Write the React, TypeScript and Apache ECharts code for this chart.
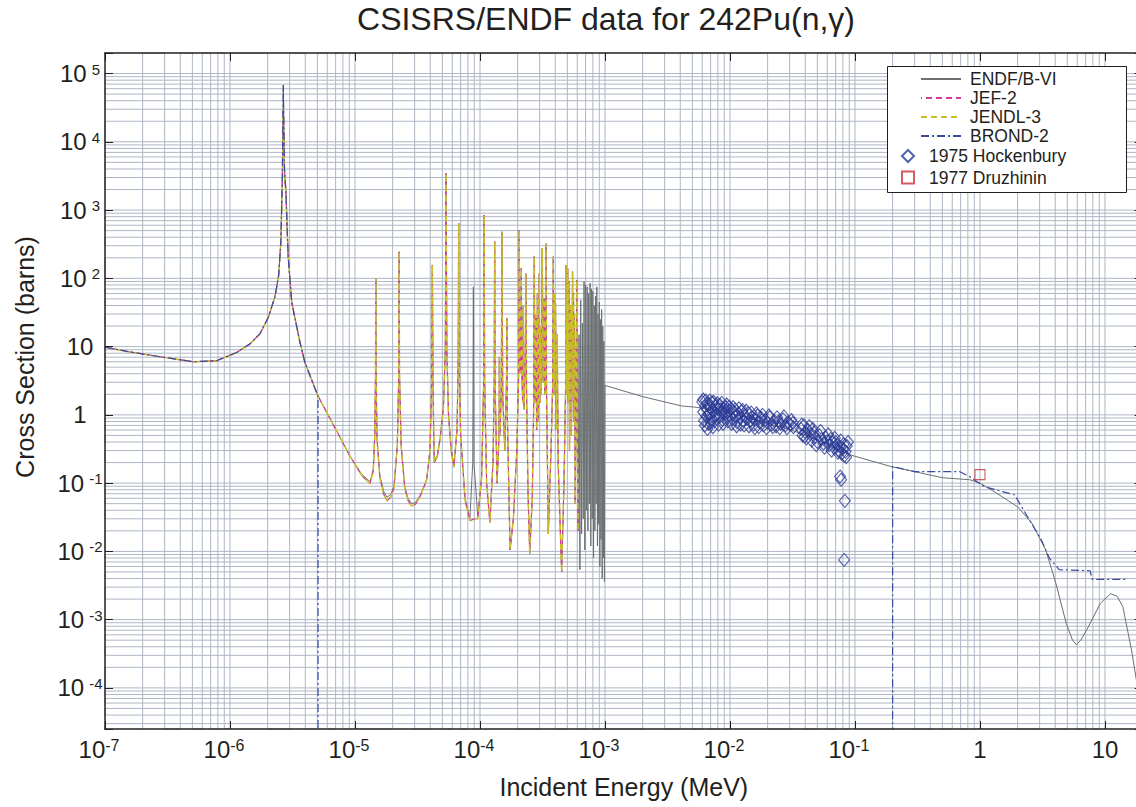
import React, { useEffect, useRef } from "react";
import * as echarts from "echarts";

const FONT = "'Liberation Sans', Arial, Helvetica, sans-serif";
const TEXT = "#231f20";
const GRID_COLOR = "#aeb6c4";

const X_MIN = 1e-7;
const X_MAX = 20;
const Y_MIN = 2.5e-5;
const Y_MAX = 2e5;

const TITLE = "CSISRS/ENDF data for 242Pu(n,\u03b3)";
const X_NAME = "Incident Energy (MeV)";
const Y_NAME = "Cross Section (barns)";

const lineNames = ["ENDF/B-VI", "JEF-2", "JENDL-3", "BROND-2"];
const pointNames = ["1975 Hockenbury", "1977 Druzhinin"];

// ENDF/B-VI evaluated curve [E (MeV), sigma (b)]
const endfB6: number[][] = [
  [1e-7, 9.8], [1.5e-7, 8.5], [2.75e-7, 7.1], [5.1e-7, 6.0], [7.8e-7, 6.2], [1.13e-6, 8.2], [1.45e-6, 11],
  [1.74e-6, 15.5], [2.03e-6, 27], [2.29e-6, 54], [2.45e-6, 110], [2.55e-6, 330], [2.62e-6, 2600],
  [2.67e-6, 68000], [2.73e-6, 4000], [2.8e-6, 1900], [2.92e-6, 210], [3.12e-6, 44], [3.63e-6, 11.5],
  [3.98e-6, 5.8], [5.09e-6, 1.85], [6.7e-6, 0.72], [9.1e-6, 0.25], [1.13e-5, 0.135], [1.32e-5, 0.105],
  [1.4e-5, 0.16], [1.44e-5, 0.5], [1.46e-5, 4], [1.468e-5, 100], [1.475e-5, 4], [1.5e-5, 0.45], [1.58e-5, 0.13],
  [1.7e-5, 0.075], [1.8e-5, 0.062], [1.93e-5, 0.068], [2.05e-5, 0.09], [2.18e-5, 0.35], [2.24e-5, 4], [2.255e-5, 245],
  [2.27e-5, 4], [2.34e-5, 0.35], [2.5e-5, 0.09], [2.65e-5, 0.06], [2.84e-5, 0.05], [3.05e-5, 0.052], [3.3e-5, 0.065],
  [3.74e-5, 0.11], [3.98e-5, 0.3], [4.1e-5, 2.5], [4.16e-5, 157],
  [4.21e-5, 2.5], [4.3e-5, 0.22], [4.55e-5, 0.25], [4.8e-5, 0.45], [5.1e-5, 1.3], [5.28e-5, 9], [5.35e-5, 3460],
  [5.43e-5, 9], [5.6e-5, 1.0], [5.9e-5, 0.3], [6.19e-5, 0.19], [6.55e-5, 0.6], [6.7e-5, 7], [6.75e-5, 640], [6.8e-5, 7],
  [7.0e-5, 0.5], [7.6e-5, 0.06], [8.3e-5, 0.03], [8.75e-5, 0.2], [8.85e-5, 75], [8.95e-5, 0.2], [9.6e-5, 0.032],
  [1.03e-4, 0.12], [1.07e-4, 3], [1.08e-4, 850], [1.09e-4, 3], [1.13e-4, 0.1], [1.2e-4, 0.027], [1.27e-4, 0.2],
  [1.3e-4, 3], [1.31e-4, 345], [1.32e-4, 3], [1.37e-4, 0.1], [1.42e-4, 0.5], [1.43e-4, 7], [1.44e-4, 0.5],
  [1.48e-4, 2], [1.5e-4, 480], [1.52e-4, 2], [1.58e-4, 0.3], [1.63e-4, 3], [1.64e-4, 26], [1.655e-4, 1],
  [1.74e-4, 0.0105], [1.85e-4, 0.03], [1.97e-4, 0.3], [2.04e-4, 4], [2.06e-4, 510], [2.08e-4, 4], [2.12e-4, 5],
  [2.14e-4, 140], [2.16e-4, 4], [2.2e-4, 1.5], [2.22e-4, 40], [2.25e-4, 1.2], [2.3e-4, 5], [2.33e-4, 117],
  [2.36e-4, 2], [2.42e-4, 0.08], [2.5e-4, 0.0093], [2.62e-4, 0.06], [2.69e-4, 1.5], [2.72e-4, 209], [2.75e-4, 1.5],
  [2.8e-4, 30], [2.84e-4, 0.6], [2.88e-4, 60], [2.92e-4, 0.8], [2.98e-4, 117], [3.01e-4, 1.5], [3.05e-4, 20],
  [3.09e-4, 2], [3.15e-4, 275], [3.2e-4, 3], [3.25e-4, 50], [3.3e-4, 2], [3.37e-4, 325], [3.41e-4, 2],
  [3.52e-4, 0.018], [3.7e-4, 0.3], [3.82e-4, 3], [3.86e-4, 209], [3.9e-4, 2], [3.95e-4, 60], [3.98e-4, 3],
  [4.02e-4, 43], [4.08e-4, 0.6], [4.15e-4, 15], [4.22e-4, 0.2], [4.5e-4, 0.005], [4.7e-4, 0.1], [4.85e-4, 3],
  [4.88e-4, 157], [4.92e-4, 2], [4.96e-4, 50], [4.99e-4, 2], [5.03e-4, 140], [5.08e-4, 1.5], [5.15e-4, 90],
  [5.2e-4, 0.3], [5.3e-4, 40], [5.38e-4, 0.5], [5.45e-4, 3], [5.5e-4, 125], [5.55e-4, 2], [5.6e-4, 60],
  [5.65e-4, 0.8], [5.7e-4, 30], [5.78e-4, 0.05], [5.88e-4, 2], [5.94e-4, 94], [6.0e-4, 0.6], [6.1e-4, 0.02],
  [6.2e-4, 15], [6.3e-4, 0.0054], [6.4e-4, 48], [6.5e-4, 0.018], [6.6e-4, 22], [6.7e-4, 0.03], [6.8e-4, 90],
  [6.9e-4, 0.0105], [7.0e-4, 80], [7.1e-4, 0.04], [7.2e-4, 75], [7.3e-4, 0.02], [7.4e-4, 60], [7.5e-4, 0.05],
  [7.6e-4, 85], [7.7e-4, 0.012], [7.8e-4, 70], [7.9e-4, 0.03], [8.0e-4, 65], [8.1e-4, 0.008], [8.2e-4, 40],
  [8.3e-4, 0.02], [8.4e-4, 55], [8.5e-4, 0.05], [8.6e-4, 75], [8.7e-4, 0.012], [8.8e-4, 30], [8.9e-4, 0.025],
  [9.0e-4, 45], [9.1e-4, 0.006], [9.2e-4, 25], [9.3e-4, 0.015], [9.4e-4, 35], [9.5e-4, 0.004], [9.6e-4, 20],
  [9.7e-4, 0.008], [9.8e-4, 12], [9.9e-4, 0.0036],
  [1.0e-3, 2.7], [2.0e-3, 1.85], [4.1e-3, 1.35], [5.2e-3, 1.3], [1.0e-2, 1.06], [2.75e-2, 0.64], [4.0e-2, 0.51],
  [9.1e-2, 0.26], [0.194, 0.175], [0.5, 0.12], [0.83, 0.112], [1.0, 0.1], [1.3, 0.075], [2.0, 0.045], [2.6, 0.026],
  [3.36, 0.0105], [4.05, 0.0034], [4.9, 8.8e-4], [5.5, 5.0e-4], [5.9, 4.3e-4], [6.4, 5.0e-4], [7.15, 7.1e-4],
  [9.2, 1.74e-3], [11.1, 2.4e-3], [12.5, 2.2e-3], [13.9, 1.55e-3], [16.3, 3.6e-4], [18.2, 1.04e-4], [20, 6e-5],
];

// JEF-2 evaluated curve (resolved region only)
const jef2: number[][] = [
  [1e-7, 9.8], [1.5e-7, 8.5], [2.75e-7, 7.1], [5.1e-7, 6.0], [7.8e-7, 6.2], [1.13e-6, 8.2], [1.45e-6, 11],
  [1.74e-6, 15.5], [2.03e-6, 27], [2.29e-6, 54], [2.45e-6, 110], [2.55e-6, 330], [2.62e-6, 2600],
  [2.67e-6, 30000], [2.73e-6, 3000], [2.8e-6, 1900], [2.92e-6, 210], [3.12e-6, 44], [3.63e-6, 11.5],
  [3.98e-6, 5.8], [5.09e-6, 1.85], [6.7e-6, 0.72], [9.1e-6, 0.25], [1.13e-5, 0.13], [1.32e-5, 0.098],
  [1.4e-5, 0.15], [1.44e-5, 0.5], [1.46e-5, 4], [1.468e-5, 100], [1.475e-5, 4], [1.5e-5, 0.45], [1.58e-5, 0.12],
  [1.7e-5, 0.068], [1.8e-5, 0.055], [1.93e-5, 0.062], [2.05e-5, 0.085], [2.18e-5, 0.35], [2.24e-5, 4], [2.255e-5, 245],
  [2.27e-5, 4], [2.34e-5, 0.35], [2.5e-5, 0.085], [2.65e-5, 0.056], [2.84e-5, 0.046], [3.05e-5, 0.049], [3.3e-5, 0.062],
  [3.74e-5, 0.11], [3.98e-5, 0.3], [4.1e-5, 2.5], [4.16e-5, 157],
  [4.21e-5, 2.5], [4.3e-5, 0.2], [4.55e-5, 0.24], [4.8e-5, 0.45], [5.1e-5, 1.3], [5.28e-5, 9], [5.35e-5, 3460],
  [5.43e-5, 9], [5.6e-5, 1.0], [5.9e-5, 0.28], [6.19e-5, 0.17], [6.55e-5, 0.6], [6.7e-5, 7], [6.75e-5, 640], [6.8e-5, 7],
  [7.0e-5, 0.5], [7.6e-5, 0.055], [8.3e-5, 0.028], [9.0e-5, 0.03], [9.6e-5, 0.03],
  [1.03e-4, 0.12], [1.07e-4, 3], [1.08e-4, 850], [1.09e-4, 3], [1.13e-4, 0.1], [1.2e-4, 0.026], [1.27e-4, 0.2],
  [1.3e-4, 3], [1.31e-4, 345], [1.32e-4, 3], [1.37e-4, 0.1], [1.42e-4, 0.5], [1.43e-4, 7], [1.44e-4, 0.5],
  [1.48e-4, 2], [1.5e-4, 480], [1.52e-4, 2], [1.58e-4, 0.3], [1.63e-4, 3], [1.64e-4, 26], [1.655e-4, 1],
  [1.74e-4, 0.0105], [1.85e-4, 0.03], [1.97e-4, 0.3], [2.04e-4, 4], [2.06e-4, 510], [2.08e-4, 4], [2.12e-4, 5],
  [2.14e-4, 140], [2.16e-4, 4], [2.2e-4, 1.5], [2.22e-4, 40], [2.25e-4, 1.2], [2.3e-4, 5], [2.33e-4, 117],
  [2.36e-4, 2], [2.42e-4, 0.08], [2.5e-4, 0.0093], [2.62e-4, 0.06], [2.69e-4, 1.5], [2.72e-4, 209], [2.75e-4, 1.5],
  [2.8e-4, 30], [2.84e-4, 0.6], [2.88e-4, 60], [2.92e-4, 0.8], [2.98e-4, 117], [3.01e-4, 1.5], [3.05e-4, 20],
  [3.09e-4, 2], [3.15e-4, 275], [3.2e-4, 3], [3.25e-4, 50], [3.3e-4, 2], [3.37e-4, 325], [3.41e-4, 2],
  [3.52e-4, 0.018], [3.7e-4, 0.3], [3.82e-4, 3], [3.86e-4, 209], [3.9e-4, 2], [3.95e-4, 60], [3.98e-4, 3],
  [4.02e-4, 43], [4.08e-4, 0.6], [4.15e-4, 15], [4.22e-4, 0.2], [4.5e-4, 0.005], [4.7e-4, 0.1], [4.85e-4, 3],
  [4.88e-4, 157], [4.92e-4, 2], [4.96e-4, 50], [4.99e-4, 2], [5.03e-4, 140], [5.08e-4, 1.5], [5.15e-4, 90],
  [5.2e-4, 0.3], [5.3e-4, 40], [5.38e-4, 0.5], [5.45e-4, 3], [5.5e-4, 125], [5.55e-4, 2], [5.6e-4, 60],
  [5.65e-4, 0.8], [5.7e-4, 30], [5.78e-4, 0.05], [5.88e-4, 2], [5.94e-4, 94], [6.0e-4, 0.6], [6.1e-4, 0.02],
];

// JENDL-3 coincides with JEF-2 everywhere in the picture
const jendl3: number[][] = jef2;

// BROND-2: thermal + first resonance, then drops off-scale until the fast region
const brond2: number[][] = [
  [1e-7, 9.8], [1.5e-7, 8.5], [2.75e-7, 7.1], [5.1e-7, 6.0], [7.8e-7, 6.2], [1.13e-6, 8.2], [1.45e-6, 11],
  [1.74e-6, 15.5], [2.03e-6, 27], [2.29e-6, 54], [2.45e-6, 110], [2.55e-6, 330], [2.62e-6, 2600],
  [2.67e-6, 68000], [2.73e-6, 4000], [2.8e-6, 1900], [2.92e-6, 210], [3.12e-6, 44], [3.63e-6, 11.5],
  [3.98e-6, 5.8], [5.06e-6, 1.85], [5.065e-6, 1e-6], [0.2, 1e-6], [0.2001, 0.175], [0.3, 0.147], [0.69, 0.147],
  [0.83, 0.124], [1.08, 0.089], [1.9, 0.067], [2.08, 0.05], [3.1, 0.0147], [3.6, 0.0079], [4.3, 0.0054],
  [7.6, 0.0052], [7.9, 0.0039], [14.7, 0.0039],
];

const hockenbury1975: number[][] = [
  [0.0060, 1.55], [0.0061, 1.10], [0.0062, 0.82], [0.0063, 1.32], [0.0064, 1.62], [0.0065, 0.95], [0.0066, 1.20],
  [0.0066, 0.62], [0.0067, 0.74], [0.0068, 1.45], [0.0069, 1.05], [0.0070, 1.28], [0.0071, 0.88], [0.0072, 1.52],
  [0.0073, 0.66], [0.0074, 1.12], [0.0075, 0.80], [0.0077, 1.35], [0.0078, 1.00], [0.0080, 1.22], [0.0082, 0.92],
  [0.0083, 1.40], [0.0085, 1.08], [0.0087, 0.84], [0.0089, 1.25], [0.0091, 1.02], [0.0093, 1.30], [0.0095, 0.90],
  [0.0097, 1.15], [0.0100, 0.98], [0.0102, 1.20], [0.0105, 0.86], [0.0108, 1.10], [0.0111, 0.95], [0.0114, 0.78],
  [0.0117, 1.05], [0.0120, 0.90], [0.0124, 1.12], [0.0128, 0.82], [0.0132, 0.98], [0.0136, 0.88], [0.0140, 1.05],
  [0.0145, 0.80], [0.0150, 0.93], [0.0155, 0.72], [0.0160, 0.86], [0.0166, 0.98], [0.0172, 0.78], [0.0178, 0.90],
  [0.0185, 0.70], [0.0192, 0.84], [0.0200, 0.76], [0.0208, 0.92], [0.0216, 0.72], [0.0225, 0.82], [0.0234, 0.68],
  [0.0244, 0.80], [0.0255, 0.74], [0.0266, 0.86], [0.0278, 0.70], [0.0290, 0.78], [0.0303, 0.72], [0.0318, 0.76],
  [0.0061, 1.68], [0.0063, 0.70], [0.0065, 1.45], [0.0067, 1.02], [0.0069, 1.62], [0.0070, 0.76], [0.0072, 1.18],
  [0.0074, 1.55], [0.0076, 0.95], [0.0079, 1.48], [0.0081, 0.72], [0.0084, 1.20], [0.0086, 1.50], [0.0088, 0.74],
  [0.0090, 1.12], [0.0094, 1.42], [0.0096, 0.80], [0.0099, 1.32], [0.0103, 0.74], [0.0106, 1.30], [0.0110, 1.20],
  [0.0113, 0.68], [0.0118, 1.25], [0.0122, 0.72], [0.0126, 1.18], [0.0130, 0.70], [0.0135, 1.15], [0.0142, 0.68],
  [0.0148, 1.08], [0.0158, 0.64], [0.0163, 1.05], [0.0170, 0.66], [0.0182, 1.00], [0.0196, 0.64], [0.0205, 0.98],
  [0.0220, 0.66], [0.0238, 0.92], [0.0250, 0.64], [0.0270, 0.95], [0.0285, 0.64], [0.0310, 0.84], [0.0322, 0.66],
  [0.0370, 0.62], [0.0380, 0.50], [0.0390, 0.70], [0.0400, 0.56], [0.0410, 0.45], [0.0420, 0.60], [0.0440, 0.52],
  [0.0450, 0.42], [0.0470, 0.55], [0.0480, 0.47], [0.0500, 0.40], [0.0520, 0.50], [0.0540, 0.44], [0.0560, 0.38],
  [0.0580, 0.47], [0.0600, 0.41], [0.0620, 0.36], [0.0640, 0.44], [0.0660, 0.39], [0.0680, 0.33], [0.0700, 0.40],
  [0.0720, 0.36], [0.0740, 0.30], [0.0760, 0.34], [0.0780, 0.27], [0.0800, 0.32], [0.0820, 0.25], [0.0840, 0.29],
  [0.0860, 0.35], [0.0375, 0.72], [0.0395, 0.48], [0.0430, 0.68], [0.0460, 0.62], [0.0490, 0.36], [0.0530, 0.58],
  [0.0570, 0.33], [0.0610, 0.52], [0.0650, 0.30], [0.0690, 0.46], [0.0730, 0.28], [0.0770, 0.42], [0.0810, 0.37],
  [0.0850, 0.24], [0.0880, 0.40],
  [0.0760, 0.125], [0.0775, 0.112], [0.0830, 0.055], [0.0820, 0.0075],
];

const druzhinin1977: number[][] = [[1.0, 0.133]];

// grid line positions (1..9 x each decade)
const multipliers = [1, 2, 3, 4, 5, 6, 7, 8, 9];
const xDecades = [-7, -6, -5, -4, -3, -2, -1, 0, 1];
const yDecades = [-5, -4, -3, -2, -1, 0, 1, 2, 3, 4, 5];

function gridValues(decades: number[], lo: number, hi: number): number[] {
  const out: number[] = [];
  decades.forEach((n) =>
    multipliers.forEach((k) => {
      const v = k * Math.pow(10, n);
      if (v > lo * 1.0001 && v < hi * 0.9999) out.push(v);
    })
  );
  return out;
}

// one zig-zag polyline per direction: the connecting legs lie on the frame
function verticalGrid(xs: number[]): number[][] {
  const pts: number[][] = [];
  xs.forEach((v, i) => {
    if (i % 2 === 0) pts.push([v, Y_MIN], [v, Y_MAX]);
    else pts.push([v, Y_MAX], [v, Y_MIN]);
  });
  return pts;
}
function horizontalGrid(ys: number[]): number[][] {
  const pts: number[][] = [];
  ys.forEach((v, i) => {
    if (i % 2 === 0) pts.push([X_MIN, v], [X_MAX, v]);
    else pts.push([X_MAX, v], [X_MIN, v]);
  });
  return pts;
}

function decadeExp(v: number): number | null {
  const e = Math.log10(v);
  const r = Math.round(e);
  return Math.abs(e - r) < 1e-6 ? r : null;
}

function fmtPow(v: number): string {
  const r = decadeExp(v);
  if (r === null) return "";
  if (r === 0) return "{b|1}";
  if (r === 1) return "{b|10}";
  return `{b|10}{e|${r}}`;
}

export default function App() {
  const ref = useRef<HTMLDivElement>(null);
  useEffect(() => {
    if (!ref.current) return;
    const chart = echarts.init(ref.current, null, { renderer: "svg" });
    const gx = gridValues(xDecades, X_MIN, X_MAX);
    const gy = gridValues(yDecades, Y_MIN, Y_MAX);
    const axisLine = { show: true, lineStyle: { color: TEXT, width: 1.5 } };
    const axisTick = { show: true, inside: true, length: 8, lineStyle: { color: TEXT, width: 1 } };
    const gridLineSeries = (name: string, data: number[][]) => ({
      name,
      type: "line",
      data,
      symbol: "none",
      silent: true,
      z: 1,
      lineStyle: { color: GRID_COLOR, width: 1, type: "solid" },
      emphasis: { disabled: true },
    });
    const option: any = {
      animation: false,
      backgroundColor: "#ffffff",
      textStyle: { fontFamily: FONT },
      grid: { left: 105, top: 53, width: 1037.6, height: 676, containLabel: false, outerBoundsMode: "none" },
      graphic: [
        {
          type: "text",
          x: 606,
          y: 19,
          z: 10,
          style: {
            text: TITLE,
            fontSize: 32,
            fontFamily: FONT,
            fill: TEXT,
            align: "center",
            verticalAlign: "middle",
          },
        },
        {
          type: "rect",
          z: 4,
          shape: { x: 887.5, y: 66.5, width: 239, height: 126 },
          style: { fill: "#ffffff", stroke: TEXT, lineWidth: 1 },
        },
      ],
      legend: [
        {
          data: lineNames,
          orient: "vertical",
          left: 920,
          top: 70,
          padding: 0,
          itemWidth: 40,
          itemHeight: 14,
          itemGap: 1,
          z: 6,
          selectedMode: false,
          itemStyle: { opacity: 0 },
          textStyle: { fontSize: 17.5, fontFamily: FONT, color: TEXT, padding: [0, 0, 0, 4] },
        },
        {
          data: pointNames,
          orient: "vertical",
          left: 901,
          top: 147,
          padding: 0,
          itemWidth: 12,
          itemHeight: 12,
          itemGap: 3.5,
          z: 6,
          selectedMode: false,
          textStyle: { fontSize: 17.5, fontFamily: FONT, color: TEXT, padding: [0, 0, 0, 10] },
        },
      ],
      xAxis: [
        {
          type: "log",
          logBase: 10,
          min: X_MIN,
          max: X_MAX,
          position: "bottom",
          splitNumber: 10,
          z: 3,
          axisLine,
          axisTick,
          splitLine: { show: false },
          name: X_NAME,
          nameLocation: "middle",
          nameGap: 45,
          nameTextStyle: { fontSize: 25, fontFamily: FONT, color: TEXT },
          axisLabel: {
            margin: 8,
            color: TEXT,
            formatter: fmtPow,
            rich: {
              b: { fontSize: 24, fontFamily: FONT, color: TEXT, lineHeight: 24 },
              e: {
                fontSize: 16,
                fontFamily: FONT,
                color: TEXT,
                verticalAlign: "top",
                lineHeight: 6,
                padding: [0, 12, 0, 0],
              },
            },
          },
        },
        {
          type: "log",
          logBase: 10,
          min: X_MIN,
          max: X_MAX,
          position: "top",
          splitNumber: 10,
          z: 3,
          axisLine,
          axisTick,
          axisLabel: { show: false },
          splitLine: { show: false },
        },
      ],
      yAxis: [
        {
          type: "log",
          logBase: 10,
          min: Y_MIN,
          max: Y_MAX,
          position: "left",
          splitNumber: 10,
          z: 3,
          axisLine,
          axisTick,
          splitLine: { show: false },
          name: Y_NAME,
          nameLocation: "middle",
          nameGap: 68,
          nameTextStyle: { fontSize: 25, fontFamily: FONT, color: TEXT, padding: [0, 0, 0, 68] },
          axisLabel: {
            margin: 25,
            align: "center",
            color: TEXT,
            formatter: fmtPow,
            rich: {
              b: { fontSize: 24, fontFamily: FONT, color: TEXT, lineHeight: 24 },
              e: {
                fontSize: 15,
                fontFamily: FONT,
                color: TEXT,
                verticalAlign: "top",
                lineHeight: 6,
                padding: [0, 0, 0, 5],
              },
            },
          },
        },
        {
          type: "log",
          logBase: 10,
          min: Y_MIN,
          max: Y_MAX,
          position: "right",
          splitNumber: 10,
          z: 3,
          axisLine,
          axisTick,
          axisLabel: { show: false },
          splitLine: { show: false },
        },
      ],
      series: [
        gridLineSeries("vgrid", verticalGrid(gx)),
        gridLineSeries("hgrid", horizontalGrid(gy)),
        {
          name: "ENDF/B-VI",
          type: "line",
          data: endfB6,
          symbol: "none",
          color: "#6b7072",
          lineStyle: { color: "#6b7072", width: 1 },
          z: 2,
        },
        {
          name: "JEF-2",
          type: "line",
          data: jef2,
          symbol: "none",
          color: "#d23c9a",
          lineStyle: { color: "#d23c9a", width: 1.2, type: [6, 4], dashOffset: 5 },
          z: 2,
        },
        {
          name: "JENDL-3",
          type: "line",
          data: jendl3,
          symbol: "none",
          color: "#c8be2a",
          lineStyle: { color: "#c8be2a", width: 1.5, type: [6, 4], dashOffset: 0 },
          z: 2,
        },
        {
          name: "BROND-2",
          type: "line",
          data: brond2,
          symbol: "none",
          color: "#3a4aa0",
          lineStyle: { color: "#3a4aa0", width: 1.2, type: [8, 3, 2, 3] },
          z: 2,
        },
        {
          name: "1975 Hockenbury",
          type: "scatter",
          data: hockenbury1975,
          symbol: "diamond",
          symbolSize: [11, 13],
          color: "#2b3a96",
          itemStyle: { color: "rgba(255,255,255,0)", borderColor: "#2b3a96", borderWidth: 1.1 },
          z: 3,
        },
        {
          name: "1977 Druzhinin",
          type: "scatter",
          data: druzhinin1977,
          symbol: "rect",
          symbolSize: 10,
          color: "#c8323a",
          itemStyle: { color: "rgba(255,255,255,0)", borderColor: "#c8323a", borderWidth: 1.1 },
          z: 3,
        },
      ],
    };
    chart.setOption(option);
    return () => chart.dispose();
  }, []);
  return (
    <div
      style={{
        position: "fixed",
        left: 0,
        top: 0,
        width: 1136,
        height: 807,
        overflow: "hidden",
        background: "#ffffff",
      }}
    >
      <div ref={ref} style={{ width: 1150, height: 807 }} />
    </div>
  );
}
